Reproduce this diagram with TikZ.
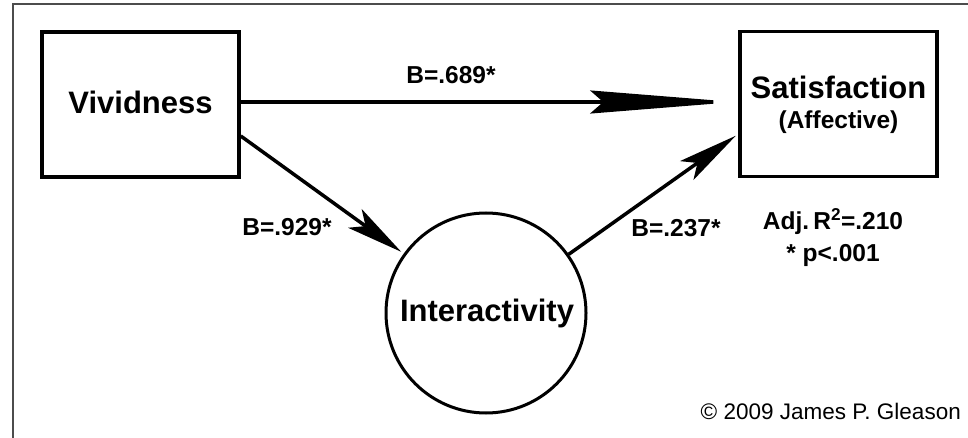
\documentclass[tikz,border=0pt]{standalone}
\usepackage{fontspec}
\setmainfont{Liberation Sans}
\usetikzlibrary{arrows.meta}

\tikzset{
  frame/.style={draw=black!70, line width=2pt},
  varbox/.style={draw, line width=3.5pt, rectangle, inner sep=0pt,
                 minimum width=197pt, minimum height=145pt},
  varcircle/.style={draw, line width=3pt, circle, inner sep=0pt, minimum size=200pt},
  bigtext/.style={font=\fontsize{31}{37}\selectfont\bfseries, inner sep=0pt},
  midtext/.style={font=\fontsize{24.5}{29}\selectfont\bfseries, inner sep=0pt},
  smalltext/.style={font=\fontsize{22.5}{27}\selectfont, inner sep=0pt},
  path arrow/.style={line width=3.5pt, shorten >=3pt,
                     -{Stealth[length=#1, width=23pt, inset=13pt]}},
}

\begin{document}
\begin{tikzpicture}[x=1pt, y=-1pt]
  \useasboundingbox (0,0) rectangle (968,438);

  % outer frame: top and left edges only
  \draw[frame] (12.7,438) -- (12.7,4) -- (968,4);

  % variables
  \node[varbox] (viv) at (140.5,104.5) {};
  \node[bigtext] (vivlab) at (140.5,102) {Vividness};

  \node[varbox] (sat) at (838.5,104) {};
  \node[bigtext] (satlab) at (838.5,87) {Satisfaction};
  \node[midtext] (satsub) at (838.5,122) {(Affective)};

  \node[varcircle] (int) at (486,313) {};
  \node[bigtext] (intlab) at (487,313) {Interactivity};

  % paths
  \draw[path arrow=145pt] ([yshift=2.5pt]viv.east) -- ([yshift=2pt]sat.west);
  \draw[path arrow=57pt] ([yshift=-31.5pt]viv.east) -- (int);
  \draw[path arrow=60pt] (int) -- ([yshift=-30pt]sat.west);

  % coefficients
  \node[midtext] (b689) at (451,75) {B=.689*};
  \node[midtext] (b929) at (287,227) {B=.929*};
  \node[midtext] (b237) at (676,228) {B=.237*};

  % model fit
  \node[midtext] (rsq) at (833,222) {Adj.\,R\textsuperscript{2}=.210};
  \node[midtext] (pval) at (833,255) {* p<.001};

  % credit line
  \node[smalltext, anchor=east] (credit) at (961,411) {© 2009 James P. Gleason};
\end{tikzpicture}
\end{document}
